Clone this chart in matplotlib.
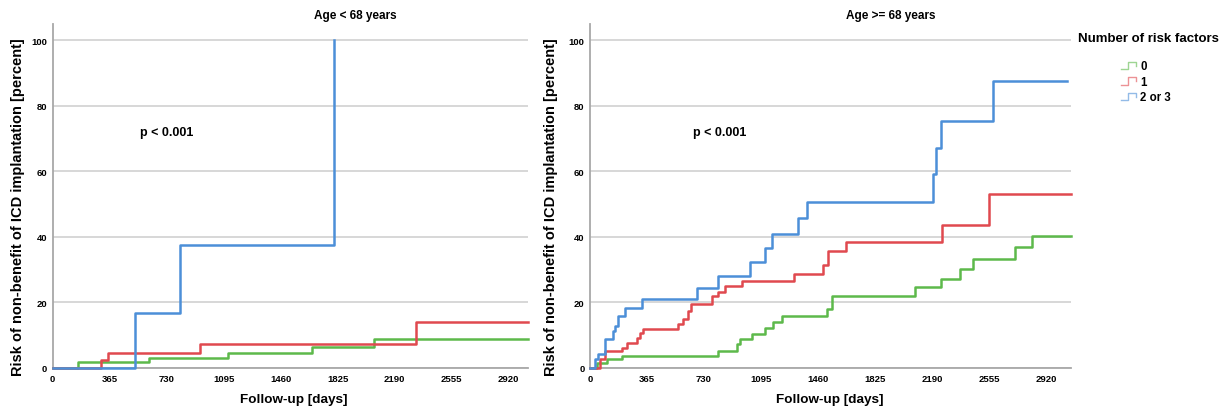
import matplotlib
matplotlib.use("Agg")
import matplotlib.pyplot as plt
from matplotlib.lines import Line2D
from matplotlib.legend_handler import HandlerBase

plt.rcParams["font.family"] = ["Liberation Sans", "DejaVu Sans"]

# ---------------------------------------------------------------------------
# Data (days / percent)
# ---------------------------------------------------------------------------
young_t0 = [0, 165, 620, 1123, 1658, 2060, 3045]
young_r0 = [0, 1.9, 3.0, 4.6, 6.3, 8.8, 8.8]
young_t1 = [0, 310, 354, 946, 2330, 3045]
young_r1 = [0, 2.3, 4.7, 7.4, 14.1, 14.1]
young_t23 = [0, 528, 815, 1802]
young_r23 = [0, 16.7, 37.5, 100]

old_t0 = [0, 43, 107, 203, 822, 939, 960, 1035, 1120, 1174, 1227, 1515,
          1547, 2081, 2245, 2369, 2450, 2724, 2833, 3078]
old_r0 = [0, 1.5, 2.6, 3.8, 5.2, 7.2, 8.9, 10.5, 12.2, 14.0, 16.0, 17.9,
          21.9, 24.6, 27.2, 30.2, 33.3, 36.9, 40.2, 40.2]
old_t1 = [0, 64, 96, 203, 235, 299, 320, 341, 565, 593, 626, 647, 784, 820,
          866, 975, 1303, 1494, 1522, 1637, 2254, 2554, 3078]
old_r1 = [0, 2.6, 5.1, 6.1, 7.7, 9.2, 10.7, 11.9, 13.4, 15.0, 17.5, 19.6,
          22.1, 23.3, 24.9, 26.7, 28.7, 31.3, 35.6, 38.4, 43.5, 53.2, 53.2]
old_t23 = [0, 32, 53, 96, 149, 160, 177, 224, 331, 683, 822, 1024, 1120,
           1163, 1334, 1387, 2199, 2218, 2246, 2582, 3052]
old_r23 = [0, 2.6, 4.4, 8.7, 11.2, 12.8, 15.8, 18.4, 21.1, 24.3, 28.1, 32.3,
           36.6, 40.8, 45.9, 50.7, 59.1, 67.3, 75.4, 87.7, 87.7]

group_labels = ["0", "1", "2 or 3"]
group_colors = ["#5DB94B", "#E0494F", "#4C8FD8"]
x_ticks = [0, 365, 730, 1095, 1460, 1825, 2190, 2555, 2920]
y_ticks = [0, 20, 40, 60, 80, 100]

Y_LABEL = "Risk of non-benefit of ICD implantation [percent]"


class StepHandler(HandlerBase):
    """Small step-shaped legend glyph, as in SPSS survival plots."""
    def create_artists(self, legend, orig, xd, yd, w, h, fs, trans):
        xs = [xd, xd + w * 0.45, xd + w * 0.45, xd + w, xd + w]
        ys = [yd, yd, yd + h * 0.9, yd + h * 0.9, yd + h * 0.45]
        ln = Line2D(xs, ys, color=orig.get_color(), lw=1.0, alpha=0.6,
                    transform=trans)
        return [ln]


def style_axes(ax, xmax, title, title_x, xlabel_x, label_fx):
    ax.set_xlim(0, xmax)
    ax.set_ylim(0, 105)
    ax.set_xticks(x_ticks)
    ax.set_yticks(y_ticks)
    ax.tick_params(length=0, labelsize=6.8, pad=4)
    for lab in ax.get_xticklabels() + ax.get_yticklabels():
        lab.set_fontweight("bold")
    ax.grid(axis="y", color="#d4d4d4", lw=1.3)
    ax.set_axisbelow(True)
    for s in ["top", "right"]:
        ax.spines[s].set_visible(False)
    for s in ["left", "bottom"]:
        ax.spines[s].set_color("#a8a8a8")
        ax.spines[s].set_linewidth(1.3)
        ax.spines[s].set_zorder(1)
    ax.set_ylabel(Y_LABEL, fontsize=10.5, fontweight="bold")
    ax.yaxis.set_label_coords(label_fx, 0.47)
    fig.text(title_x, 0.962, title, ha="center", va="center",
             fontsize=8.5, fontweight="bold")
    fig.text(xlabel_x, 0.033, "Follow-up [days]", ha="center", va="center",
             fontsize=9.7, fontweight="bold")


fig = plt.figure(figsize=(12.28, 4.14), dpi=100)
ax1 = fig.add_axes([0.0429, 0.1087, 0.3871, 0.8309])
ax2 = fig.add_axes([0.4805, 0.1087, 0.3914, 0.8309])

for t, r, c in zip([young_t0, young_t1, young_t23],
                   [young_r0, young_r1, young_r23], group_colors):
    ax1.step(t, r, where="post", color=c, lw=1.8, clip_on=False, zorder=3)

handles = []
for t, r, c, lab in zip([old_t0, old_t1, old_t23],
                        [old_r0, old_r1, old_r23], group_colors, group_labels):
    ln, = ax2.step(t, r, where="post", color=c, lw=1.8, label=lab,
                   clip_on=False, zorder=3)
    handles.append(ln)

ax1.text(731, 72, "p < 0.001", ha="center", va="center",
         fontsize=9, fontweight="bold")
ax2.text(829, 72, "p < 0.001", ha="center", va="center",
         fontsize=9, fontweight="bold")

style_axes(ax1, 3045, "Age < 68 years", 0.289, 0.239, -0.058)
style_axes(ax2, 3078, "Age >= 68 years", 0.725, 0.676, -0.066)

fig.text(0.878, 0.906, "Number of risk factors", ha="left", va="center",
         fontsize=9.5, fontweight="bold")
leg = fig.legend(handles=handles, labels=group_labels,
                 handler_map={Line2D: StepHandler()},
                 loc="upper left", bbox_to_anchor=(0.913, 0.852),
                 frameon=False, fontsize=8.3,
                 handlelength=1.3, handletextpad=0.35, labelspacing=0.3,
                 borderaxespad=0, borderpad=0)
for txt in leg.get_texts():
    txt.set_fontweight("bold")

fig.savefig("out.png", dpi=100)
